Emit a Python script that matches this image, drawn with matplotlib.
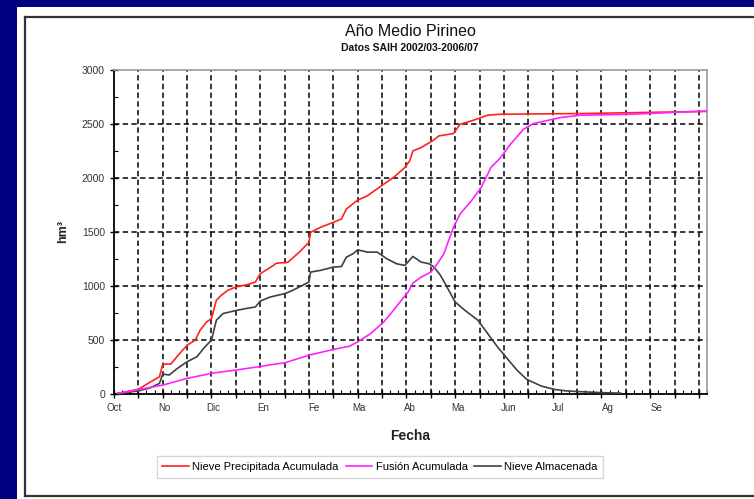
import matplotlib
matplotlib.use("Agg")
import matplotlib.pyplot as plt
from matplotlib.patches import Rectangle
from matplotlib.lines import Line2D

# days counted from 1 October
precip_days = [2, 15, 22, 28, 30, 35, 39, 45, 50, 53, 57, 60, 63, 66, 70, 75, 82, 87, 90, 96,
               100, 107, 114, 120, 121, 127, 135, 140, 143, 150, 156, 166, 172, 179, 182, 184,
               189, 196, 200, 209, 213, 220, 226, 230, 238, 287, 365]
precip_vals = [0, 39, 103, 155, 272, 272, 346, 447, 494, 586, 662, 694, 863, 909, 955, 986,
               1008, 1032, 1109, 1165, 1206, 1215, 1308, 1400, 1492, 1538, 1585, 1616, 1708,
               1791, 1831, 1938, 2000, 2092, 2154, 2246, 2277, 2339, 2385, 2407, 2493, 2524,
               2555, 2577, 2586, 2592, 2612]

fusion_days = [2, 15, 30, 45, 60, 75, 90, 96, 105, 120, 135, 145, 150, 158, 166, 172, 176,
               181, 184, 189, 195, 199, 203, 209, 213, 220, 226, 232, 238, 244, 252, 258, 267,
               275, 287, 317, 345, 365]
fusion_vals = [0, 35, 78, 140, 187, 217, 250, 265, 284, 355, 408, 438, 478, 555, 662, 770,
               847, 939, 1023, 1077, 1124, 1201, 1293, 1539, 1662, 1785, 1908, 2092, 2185, 2308,
               2446, 2498, 2529, 2555, 2577, 2585, 2603, 2615]

stored_days = [2, 15, 22, 28, 30, 34, 39, 45, 51, 56, 60, 63, 67, 75, 82, 87, 90, 96, 105, 110,
               120, 121, 127, 135, 140, 143, 147, 150, 156, 162, 168, 174, 179, 184, 189, 194,
               197, 201, 205, 210, 216, 224, 230, 236, 242, 248, 254, 263, 271, 279, 287, 300, 312]
stored_vals = [0, 24, 51, 94, 180, 171, 232, 294, 340, 432, 494, 678, 740, 768, 789, 801, 855,
               893, 924, 955, 1032, 1124, 1140, 1170, 1176, 1262, 1293, 1330, 1309, 1309, 1247,
               1201, 1186, 1269, 1217, 1201, 1170, 1093, 985, 847, 770, 678, 555, 432, 324, 217,
               131, 69, 38, 23, 17, 8, 3]

month_days = [0, 31, 61, 92, 123, 151, 182, 212, 243, 273, 304, 334]
month_labels = ["Oct", "No", "Dic", "En", "Fe", "Ma", "Ab", "Ma", "Jun", "Jul", "Ag", "Se"]
grid_days = list(range(15, 361, 15))
grid_vals = [500, 1000, 1500, 2000, 2500]

plt.rcParams['font.family'] = ['Liberation Sans', 'DejaVu Sans']

W, H = 754, 499
fig = plt.figure(figsize=(W / 100, H / 100), dpi=100, facecolor="white")

# slide background: navy bands and the dark panel frame
fig.patches.append(Rectangle((0, 0), 17 / W, 1, transform=fig.transFigure,
                             facecolor="#000080", edgecolor="none", zorder=-5))
fig.patches.append(Rectangle((0, 1 - 7 / H), 1, 7 / H, transform=fig.transFigure,
                             facecolor="#000080", edgecolor="none", zorder=-5))
fig.lines.append(Line2D([25 / W, 1.0], [1 - 17 / H, 1 - 17 / H], transform=fig.transFigure,
                        color="#333333", lw=1.6))
fig.lines.append(Line2D([25 / W, 25 / W], [3 / H, 1 - 17 / H], transform=fig.transFigure,
                        color="#333333", lw=1.6))
fig.lines.append(Line2D([25 / W, 1.0], [3 / H, 3 / H], transform=fig.transFigure,
                        color="#333333", lw=1.6))

ax = fig.add_axes([114 / W, 1 - 393.5 / H, 593 / W, 324 / H])
ax.set_xlim(0, 365)
ax.set_ylim(0, 3000)

ax.vlines(grid_days, 0, 3000, colors="black", linestyles=(0, (3.5, 2.2)), lw=1.1, zorder=1)
ax.hlines(grid_vals, 0, 365, colors="black", linestyles=(0, (3.5, 2.2)), lw=1.1, zorder=1)

ax.plot(precip_days, precip_vals, color="#ff2020", lw=1.2, label="Nieve Precipitada Acumulada", zorder=3)
ax.plot(stored_days, stored_vals, color="#404040", lw=1.2, label="Nieve Almacenada", zorder=3)
ax.plot(fusion_days, fusion_vals, color="#ff22ff", lw=1.2, label="Fusión Acumulada", zorder=4)

for s in ["top", "right"]:
    ax.spines[s].set_color("#999999")
    ax.spines[s].set_linewidth(1.2)
for s in ["left", "bottom"]:
    ax.spines[s].set_color("black")
    ax.spines[s].set_linewidth(1.3)

ax.set_yticks(range(0, 3001, 500))
ax.set_yticks(range(0, 3001, 250), minor=True)
ax.set_xticks([0] + grid_days)
ax.set_xticks(range(0, 366, 5), minor=True)
ax.set_xticklabels([])
ax.tick_params(axis="both", which="major", direction="inout", length=6, width=1,
               labelsize=7.5, labelcolor="#333333")
ax.tick_params(axis="both", which="minor", direction="in", length=3, width=0.8)
ax.tick_params(axis="x", which="major", labelbottom=False)

sec = ax.secondary_xaxis("bottom")
sec.set_xticks(month_days)
sec.set_xticklabels(month_labels)
sec.tick_params(length=0, pad=7, labelsize=7, labelcolor="#333333")
sec.spines["bottom"].set_visible(False)

ax.set_xlabel("Fecha", fontsize=10, fontweight="bold", color="#222222", labelpad=22)
ax.set_ylabel("hm³", fontsize=9, fontweight="bold", color="#222222", labelpad=9)

fig.text(410 / W, 1 - 31 / H, "Año Medio Pirineo", ha="center", va="center",
         fontsize=11.5, color="#111111")
fig.text(410 / W, 1 - 48 / H, "Datos SAIH 2002/03-2006/07", ha="center", va="center",
         fontsize=7.5, fontweight="bold", color="#111111")

handles, labels = ax.get_legend_handles_labels()
order = [0, 2, 1]
leg = fig.legend([handles[i] for i in order], [labels[i] for i in order],
                 loc="center", bbox_to_anchor=(380 / W, 1 - 467 / H), ncol=3,
                 fontsize=8, frameon=True, fancybox=False, edgecolor="#cccccc",
                 handlelength=2.4, handletextpad=0.3, columnspacing=0.6,
                 borderpad=0.5)
leg.get_frame().set_linewidth(1.0)

fig.savefig("out.png", dpi=100, facecolor="white")
